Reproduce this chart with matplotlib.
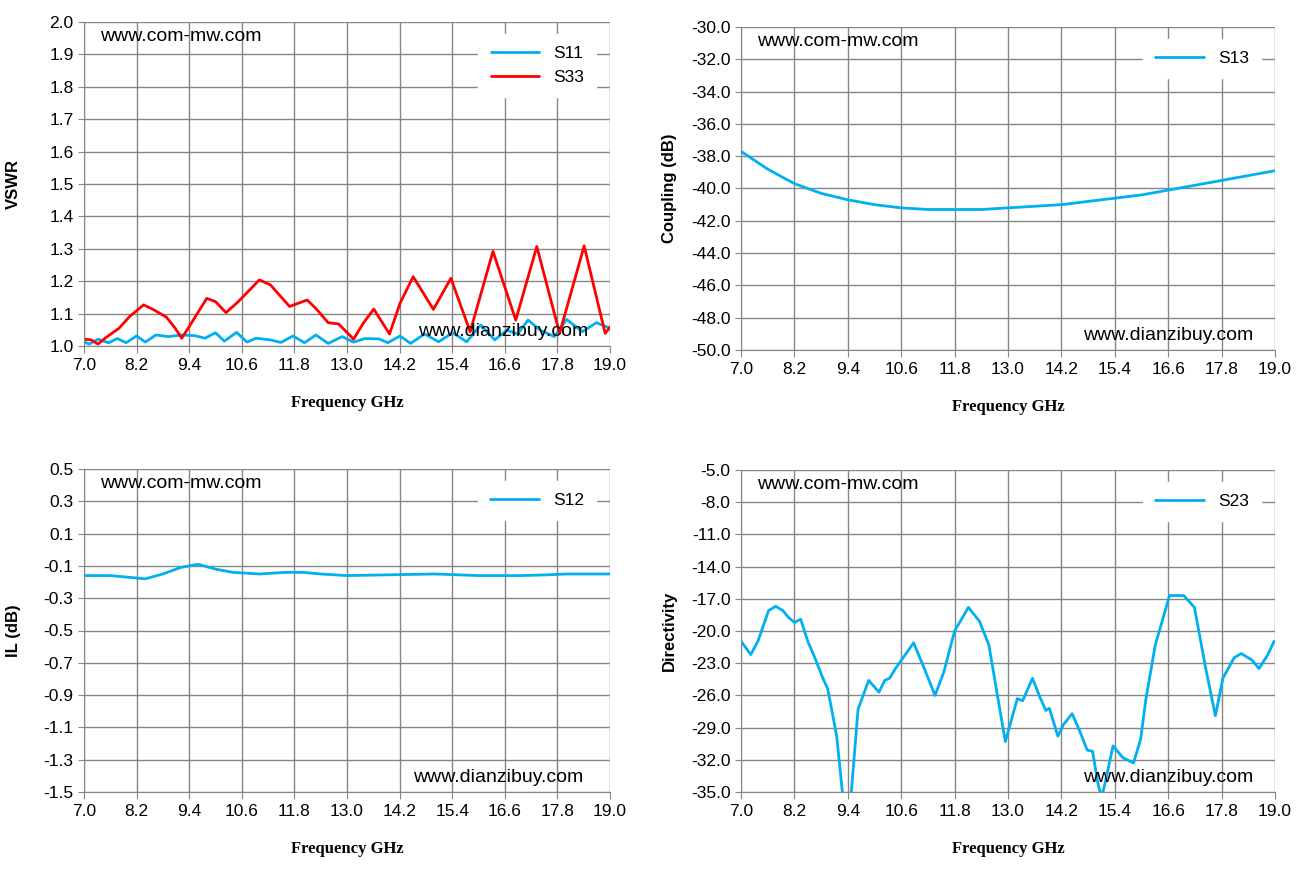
import matplotlib
matplotlib.use("Agg")
import matplotlib.pyplot as plt
import numpy as np
from matplotlib.ticker import FormatStrFormatter

s33_f = [7.0,7.16,7.32,7.48,7.8,8.04,8.36,8.6,8.88,9.08,9.23,9.4,9.8,10.0,10.24,10.52,11.0,11.25,11.69,12.09,12.29,12.57,12.81,13.15,13.37,13.61,13.97,14.21,14.51,14.97,15.37,15.81,16.33,16.85,17.33,17.85,18.41,18.89,19.0]
s33_v = [1.021,1.019,1.006,1.024,1.055,1.091,1.127,1.111,1.089,1.055,1.024,1.06,1.147,1.137,1.103,1.137,1.204,1.189,1.122,1.142,1.116,1.072,1.068,1.021,1.07,1.114,1.037,1.132,1.214,1.113,1.209,1.044,1.292,1.08,1.307,1.039,1.309,1.039,1.058]
s11_f = [7.0,7.12,7.32,7.56,7.76,7.96,8.2,8.4,8.64,8.92,9.24,9.52,9.76,10.0,10.2,10.48,10.72,10.92,11.25,11.49,11.77,12.03,12.29,12.57,12.89,13.15,13.41,13.73,13.93,14.21,14.45,14.77,15.09,15.41,15.73,16.05,16.37,16.65,16.89,17.13,17.41,17.73,18.01,18.37,18.69,19.0]
s11_v = [1.013,1.006,1.021,1.01,1.023,1.01,1.031,1.012,1.034,1.029,1.034,1.032,1.024,1.041,1.015,1.042,1.012,1.024,1.019,1.011,1.031,1.01,1.034,1.008,1.029,1.012,1.023,1.022,1.01,1.031,1.008,1.037,1.013,1.041,1.013,1.065,1.019,1.049,1.037,1.08,1.049,1.029,1.082,1.044,1.072,1.055]

s13_f = [7.0,7.6,8.2,8.8,9.4,10.0,10.6,11.2,11.8,12.4,13.0,13.6,14.2,14.8,15.4,16.0,16.6,17.2,17.8,18.4,19.0]
s13_v = [-37.7,-38.8,-39.7,-40.3,-40.7,-41.0,-41.2,-41.3,-41.3,-41.3,-41.2,-41.1,-41.0,-40.8,-40.6,-40.4,-40.1,-39.8,-39.5,-39.2,-38.9]

s12_f = [7.0,7.6,8.0,8.4,8.8,9.2,9.6,10.0,10.4,11.0,11.6,12.0,12.4,13.0,14.0,15.0,16.0,17.0,17.6,18.0,19.0]
s12_v = [-0.16,-0.16,-0.17,-0.18,-0.15,-0.11,-0.09,-0.12,-0.14,-0.15,-0.14,-0.14,-0.15,-0.16,-0.155,-0.15,-0.16,-0.16,-0.155,-0.15,-0.15]

s23_f = [7.0,7.22,7.38,7.62,7.78,7.94,8.06,8.2,8.34,8.5,8.66,8.84,8.95,9.15,9.29,9.47,9.63,9.87,10.1,10.23,10.34,10.47,10.88,11.12,11.36,11.56,11.8,12.11,12.36,12.57,12.75,12.94,13.21,13.33,13.55,13.72,13.85,13.93,14.12,14.25,14.44,14.6,14.78,14.9,15.02,15.1,15.18,15.36,15.58,15.82,15.98,16.1,16.31,16.63,16.95,17.19,17.43,17.66,17.83,18.08,18.24,18.48,18.64,18.84,18.98]
s23_v = [-20.95,-22.2,-20.95,-18.1,-17.7,-18.1,-18.7,-19.2,-18.9,-20.95,-22.5,-24.4,-25.4,-29.8,-35.5,-35.5,-27.3,-24.6,-25.7,-24.6,-24.4,-23.5,-21.1,-23.5,-26.0,-23.8,-20.0,-17.8,-19.1,-21.3,-25.7,-30.3,-26.3,-26.5,-24.4,-26.2,-27.4,-27.2,-29.8,-28.7,-27.7,-29.2,-31.1,-31.2,-34.2,-35.5,-34.2,-30.7,-31.8,-32.3,-30.1,-26.3,-21.3,-16.7,-16.7,-17.8,-23.2,-27.9,-24.4,-22.5,-22.1,-22.7,-23.5,-22.2,-20.95]

xticks = [7.0,8.2,9.4,10.6,11.8,13.0,14.2,15.4,16.6,17.8,19.0]
BLUE = "#00B0F0"
RED = "#FF0000"
W, H = 1305, 874
fig = plt.figure(figsize=(W/100, H/100), dpi=100)

def mkax(l, r, t, b):
    return fig.add_axes([l/W, 1-b/H, (r-l)/W, (b-t)/H])

def style(ax, ylim, step, ylabel):
    ax.set_xlim(7, 19)
    ax.set_ylim(*ylim)
    ax.set_xticks(xticks)
    ax.set_yticks(np.arange(ylim[0], ylim[1]+step/2, step))
    ax.xaxis.set_major_formatter(FormatStrFormatter('%.1f'))
    ax.yaxis.set_major_formatter(FormatStrFormatter('%.1f'))
    ax.grid(True, color="#868686", lw=1)
    ax.set_axisbelow(True)
    for s in ["top", "right"]:
        ax.spines[s].set_visible(False)
    for s in ["left", "bottom"]:
        ax.spines[s].set_color("#868686")
    ax.tick_params(colors="#868686", labelcolor="black", labelsize=12.5, length=5)
    ax.tick_params(axis='y', length=4)
    ax.set_ylabel(ylabel, fontsize=12, fontweight="bold", family="Liberation Sans")
    ax.set_xlabel("Frequency GHz", fontsize=12, fontweight="bold", family="Liberation Serif", labelpad=16)
    for lb in ax.get_xticklabels() + ax.get_yticklabels():
        lb.set_family("Liberation Sans")

def leg(ax):
    lg = ax.legend(loc="upper right", bbox_to_anchor=(0.99, 0.99), frameon=True, fancybox=False,
                   edgecolor="white", framealpha=1, fontsize=12.5, handlelength=2.8, borderpad=0.7)
    for t in lg.get_texts():
        t.set_family("Liberation Sans")

def marks(ax, x2):
    ax.text(0.03, 0.94, "www.com-mw.com", transform=ax.transAxes, fontsize=14, family="Liberation Sans")
    ax.text(x2, 0.03, "www.dianzibuy.com", transform=ax.transAxes, fontsize=14, family="Liberation Sans")

kw = dict(lw=2, solid_joinstyle="round", solid_capstyle="round")

ax1 = mkax(84, 610, 22, 346)
ax1.plot(s11_f, s11_v, color=BLUE, label="S11", **kw)
ax1.plot(s33_f, s33_v, color=RED, label="S33", **kw)
style(ax1, (1.0, 2.0), 0.1, "VSWR")
leg(ax1); marks(ax1, 0.635)

ax2 = mkax(741, 1275, 27, 350)
ax2.plot(s13_f, s13_v, color=BLUE, label="S13", **kw)
style(ax2, (-50, -30), 2.0, "Coupling (dB)")
leg(ax2); marks(ax2, 0.64)

ax3 = mkax(84, 610, 469, 792)
ax3.plot(s12_f, s12_v, color=BLUE, label="S12", **kw)
style(ax3, (-1.5, 0.5), 0.2, "IL (dB)")
leg(ax3); marks(ax3, 0.625)

ax4 = mkax(741, 1275, 470, 792)
ax4.plot(s23_f, s23_v, color=BLUE, label="S23", **kw)
style(ax4, (-35, -5), 3.0, "Directivity")
leg(ax4); marks(ax4, 0.64)

for ax in (ax1, ax2, ax3, ax4):
    ax.yaxis.set_label_coords(-0.12, 0.5)

fig.savefig("out.png", dpi=100)
